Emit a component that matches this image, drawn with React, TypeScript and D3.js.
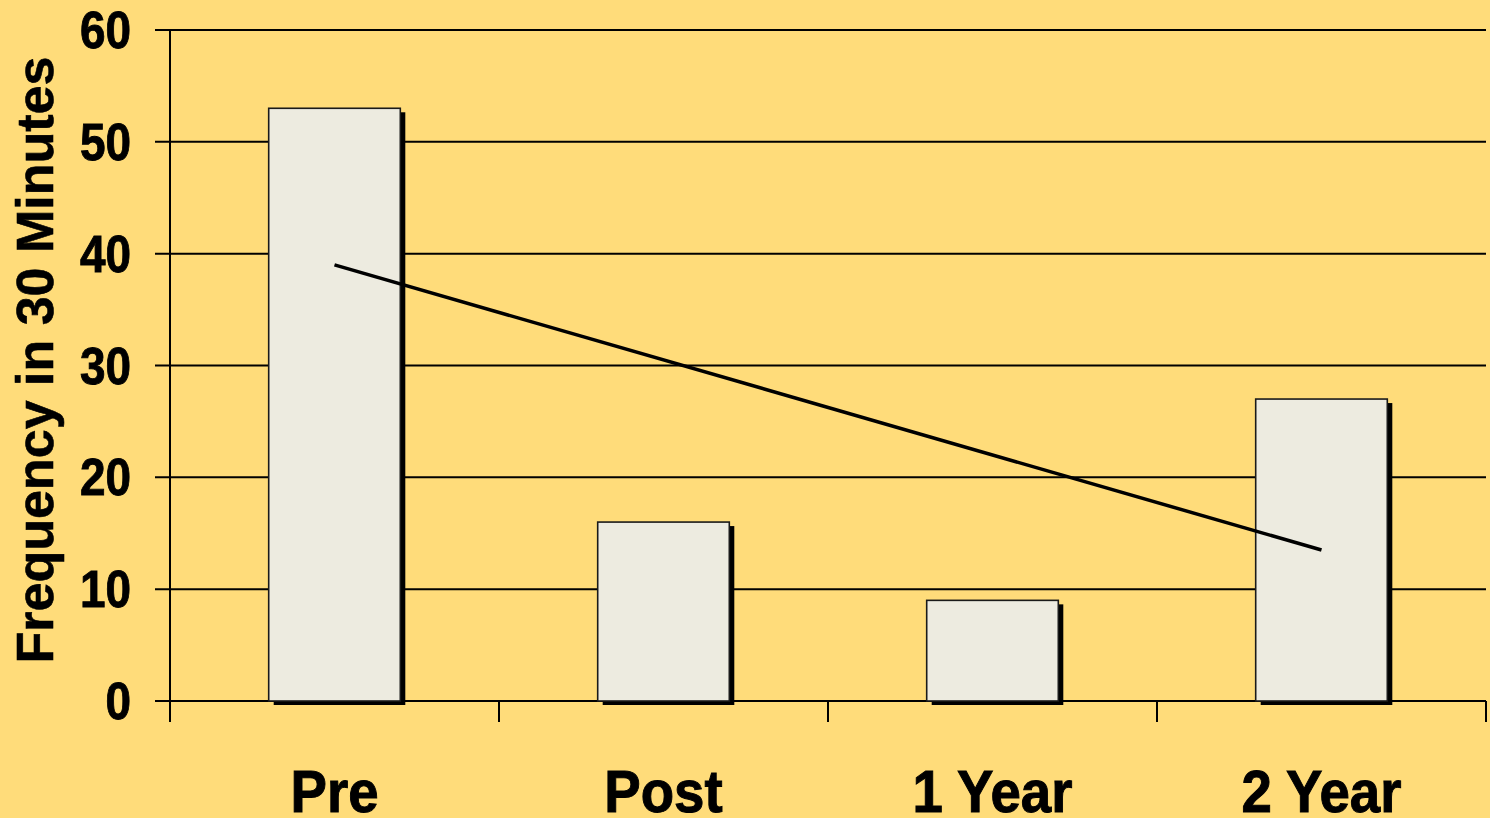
import React from "react";
import * as d3 from "d3";

const categories = ["Pre", "Post", "1 Year", "2 Year"];
const frequency = [53, 16, 9, 27];
const yTicks = [0, 10, 20, 30, 40, 50, 60];
const yTitle = "Frequency in 30 Minutes";

const W = 1490;
const H = 818;
const left = 170;
const right = 1486;
const top = 30;
const bottom = 701;

const BG = "#FFDC7A";
const BAR = "#EDEBE0";
const FONT = "'Liberation Sans', Arial, Helvetica, sans-serif";

export default function App() {
  const x = d3.scaleBand<string>().domain(categories).range([left, right]).paddingInner(0).paddingOuter(0);
  const y = d3.scaleLinear().domain([0, 60]).range([bottom, top]);
  const barW = x.bandwidth() * 0.4;

  // least-squares trend across the category positions
  const idx = categories.map((_, i) => i);
  const mx = d3.mean(idx) as number;
  const my = d3.mean(frequency) as number;
  const slope =
    d3.sum(idx, (i) => (i - mx) * (frequency[i] - my)) / d3.sum(idx, (i) => (i - mx) ** 2);
  const intercept = my - slope * mx;
  const trend = idx.map((i) => ({ c: categories[i], v: intercept + slope * i }));
  const line = d3
    .line<{ c: string; v: number }>()
    .x((d) => (x(d.c) as number) + x.bandwidth() / 2)
    .y((d) => y(d.v));
  const trendEnds = [trend[0], trend[trend.length - 1]];

  const boundaries = [...categories.map((c) => x(c) as number), right];

  return (
    <svg
      width={W}
      height={H}
      style={{ position: "absolute", left: 0, top: 0, background: BG, display: "block" }}
    >
      <rect x={0} y={0} width={W} height={H} fill={BG} />

      {/* horizontal gridlines with left ticks */}
      {yTicks.map((t) => (
        <line key={t} x1={155} x2={right} y1={y(t)} y2={y(t)} stroke="#000" strokeWidth={2} />
      ))}

      {/* value axis */}
      <line x1={left} x2={left} y1={y(60)} y2={bottom + 21} stroke="#000" strokeWidth={2} />

      {/* category boundary ticks */}
      {boundaries.map((b, i) => (
        <line key={i} x1={b} x2={b} y1={bottom} y2={bottom + 21} stroke="#000" strokeWidth={2} />
      ))}

      {/* bars with drop shadow */}
      {categories.map((c, i) => {
        const bx = (x(c) as number) + (x.bandwidth() - barW) / 2;
        const by = y(frequency[i]);
        const bh = bottom - by;
        return (
          <g key={c}>
            <rect x={bx + 5} y={by + 4} width={barW} height={bh} fill="#000" />
            <rect
              x={bx}
              y={by}
              width={barW}
              height={bh}
              fill={BAR}
              stroke="#1a1a1a"
              strokeWidth={1.6}
            />
          </g>
        );
      })}

      {/* linear trend */}
      <path d={line(trendEnds) as string} fill="none" stroke="#000" strokeWidth={3.5} />

      {/* value tick labels */}
      {yTicks.map((t) => (
        <text
          key={t}
          transform={`translate(131, ${y(t) + 18}) scale(0.9, 1)`}
          textAnchor="end"
          fontFamily={FONT}
          fontWeight="bold"
          fontSize={51}
          fill="#000"
          stroke="#000"
          strokeWidth={0.9}
        >
          {t}
        </text>
      ))}

      {/* category labels */}
      {categories.map((c) => (
        <text
          key={c}
          transform={`translate(${(x(c) as number) + x.bandwidth() / 2}, 812) scale(0.91, 1)`}
          textAnchor="middle"
          fontFamily={FONT}
          fontWeight="bold"
          fontSize={60}
          fill="#000"
          stroke="#000"
          strokeWidth={1}
        >
          {c}
        </text>
      ))}

      {/* axis title */}
      <text
        transform={`translate(53, 360) rotate(-90)`}
        textAnchor="middle"
        fontFamily={FONT}
        fontWeight="bold"
        fontSize={52}
        fill="#000"
        stroke="#000"
        strokeWidth={0.6}
      >
        {yTitle}
      </text>
    </svg>
  );
}
